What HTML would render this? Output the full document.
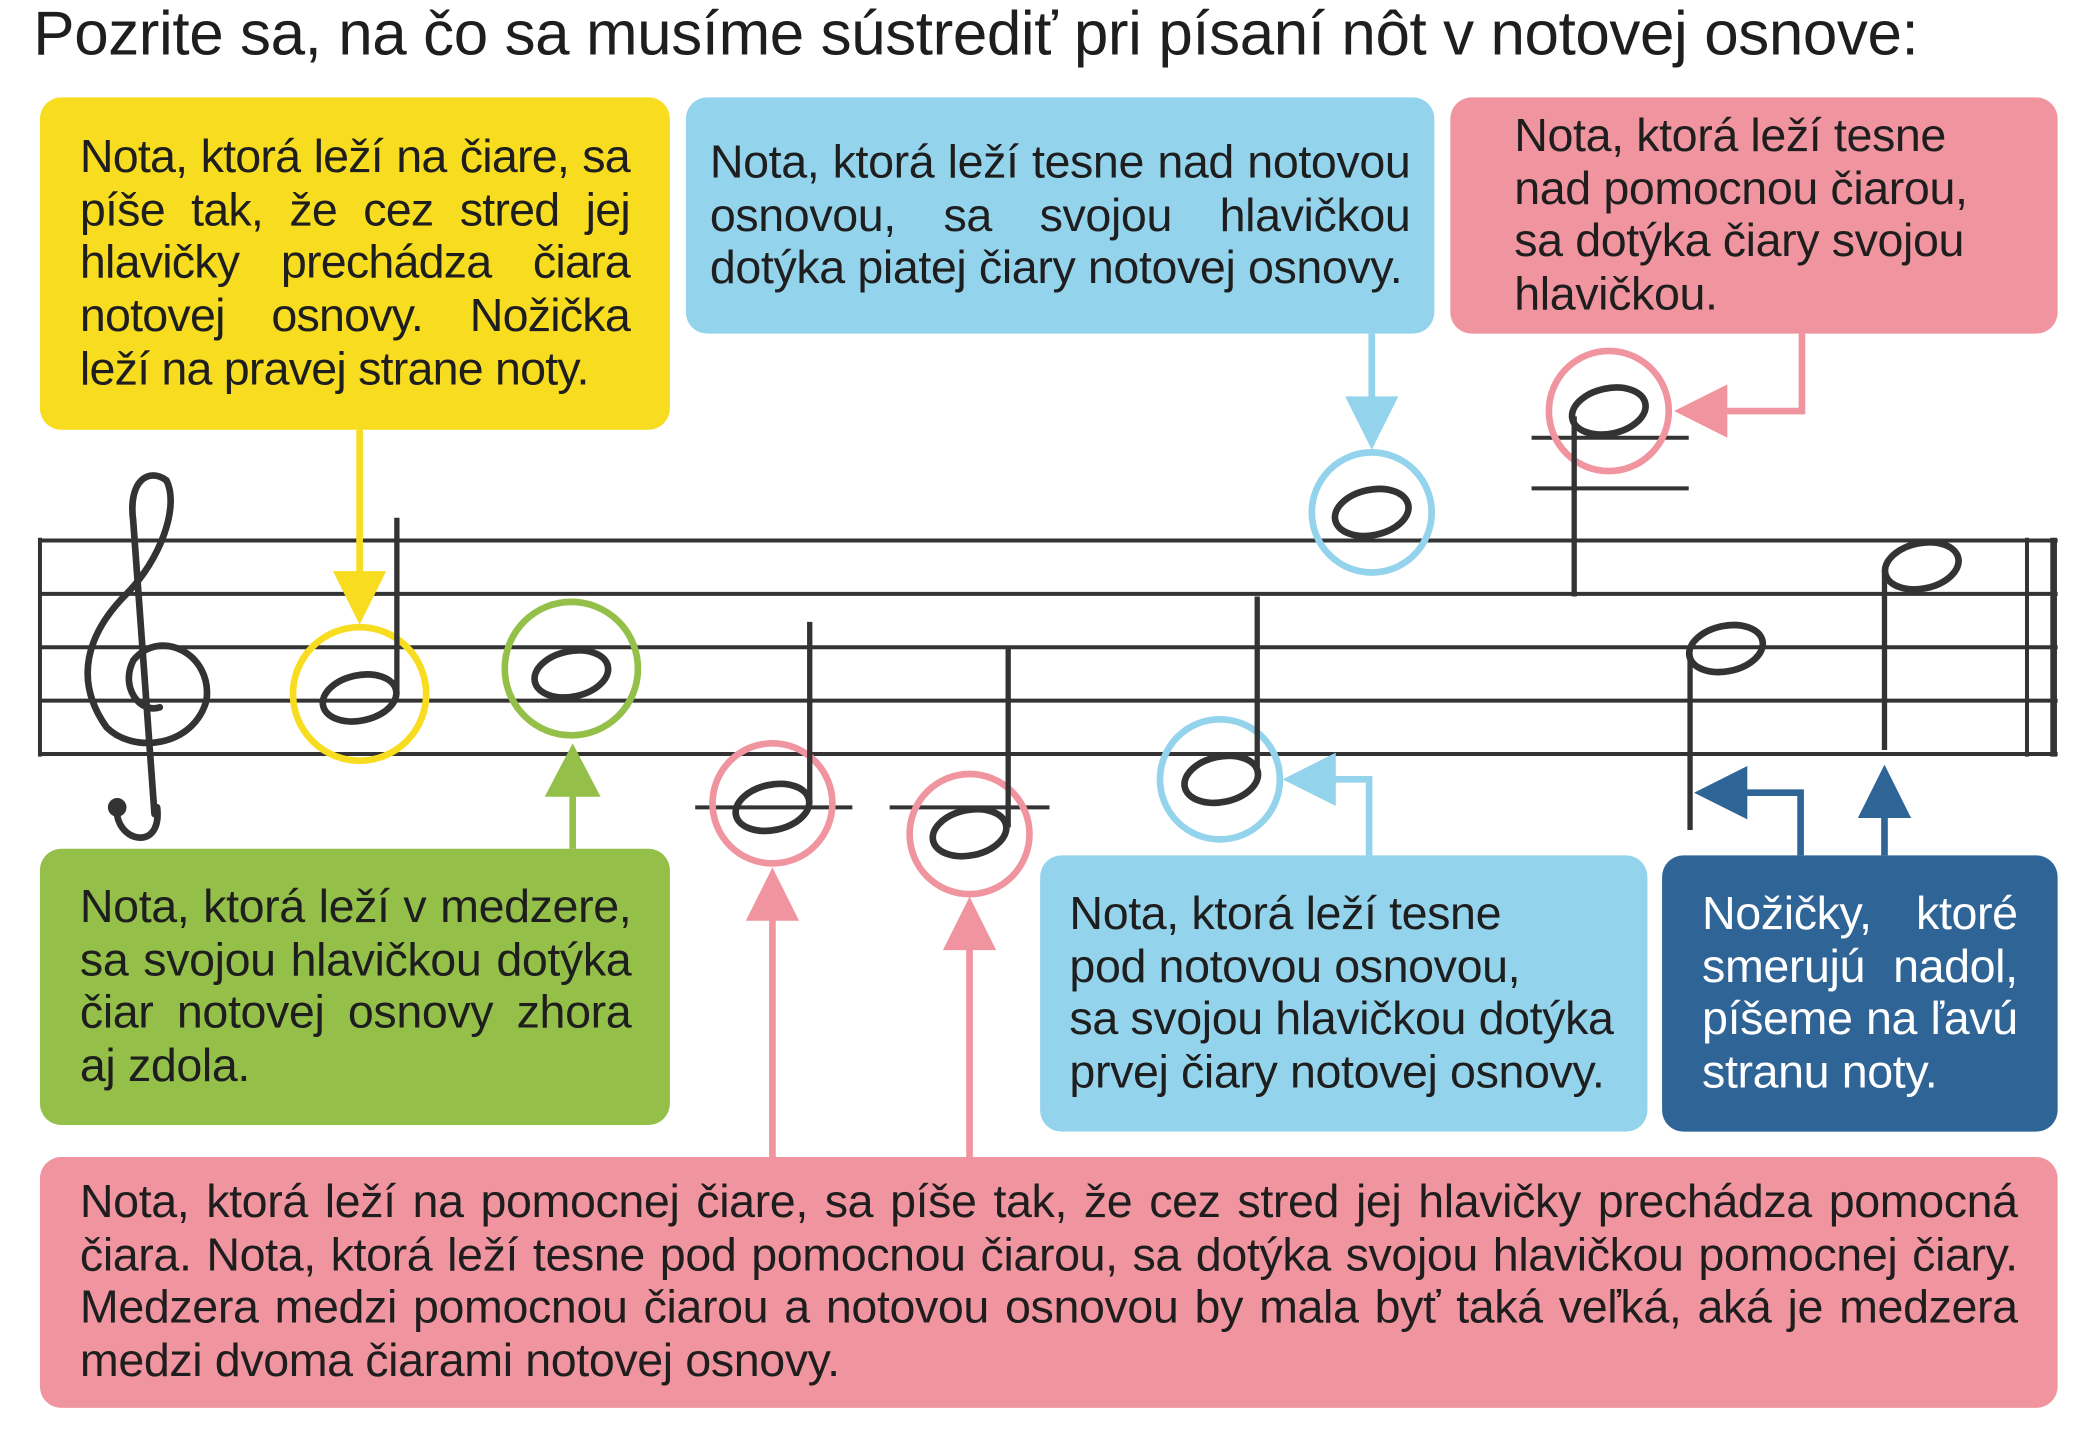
<!DOCTYPE html>
<html><head><meta charset="utf-8"><style>
html,body{margin:0;padding:0;background:#fff;width:2087px;height:1454px;overflow:hidden}
#w{position:absolute;left:0;top:0;width:1560px;height:1087px;transform-origin:0 0;transform:scale(1.3318,1.3345);font-family:"Liberation Sans",sans-serif;color:#1e1e1e}
.b{position:absolute;border-radius:16px}
.t{position:absolute;font-size:35px;line-height:39.7px;letter-spacing:-0.3px}
.t div{white-space:nowrap}
.j div{text-align:justify;text-align-last:justify}
.j div.l{text-align-last:left}
svg{position:absolute;left:0;top:0}
</style></head><body><div id="w">
<div class="t" style="left:25px;top:0px;font-size:46.5px;line-height:50px;letter-spacing:-0.3px">Pozrite sa, na čo sa musíme sústrediť pri písaní nôt v notovej osnove:</div>
<div class="b" style="left:30px;top:73px;width:473px;height:249px;background:#f8dc1f"></div>
<div class="b" style="left:515px;top:73px;width:562px;height:177px;background:#94d3ec"></div>
<div class="b" style="left:1089px;top:73px;width:456px;height:177px;background:#f0959f"></div>
<div class="b" style="left:30px;top:636px;width:473px;height:207px;background:#94c04a"></div>
<div class="b" style="left:781px;top:641px;width:456px;height:207px;background:#94d3ec"></div>
<div class="b" style="left:1248px;top:641px;width:297px;height:207px;background:#2f6496"></div>
<div class="b" style="left:30px;top:867px;width:1515px;height:188px;background:#f0959f"></div>

<div class="t j" style="left:60px;top:98px;width:413px;letter-spacing:-0.6px"><div>Nota, ktorá leží na čiare, sa</div><div>píše tak, že cez stred jej</div><div>hlavičky prechádza čiara</div><div>notovej osnovy. Nožička</div><div class="l">leží na pravej strane noty.</div></div>
<div class="t j" style="left:533px;top:102px;width:526px"><div>Nota, ktorá leží tesne nad notovou</div><div>osnovou, sa svojou hlavičkou</div><div class="l">dotýka piatej čiary notovej osnovy.</div></div>
<div class="t" style="left:1137px;top:82px"><div>Nota, ktorá leží tesne</div><div>nad pomocnou čiarou,</div><div>sa dotýka čiary svojou</div><div>hlavičkou.</div></div>
<div class="t j" style="left:60px;top:660px;width:414px"><div>Nota, ktorá leží v medzere,</div><div>sa svojou hlavičkou dotýka</div><div>čiar notovej osnovy zhora</div><div class="l">aj zdola.</div></div>
<div class="t" style="left:803px;top:665px"><div>Nota, ktorá leží tesne</div><div>pod notovou osnovou,</div><div>sa svojou hlavičkou dotýka</div><div>prvej čiary notovej osnovy.</div></div>
<div class="t j" style="left:1278px;top:665px;width:237px;color:#fff"><div>Nožičky, ktoré</div><div>smerujú nadol,</div><div>píšeme na ľavú</div><div class="l">stranu noty.</div></div>
<div class="t j" style="left:60px;top:881px;width:1455px"><div>Nota, ktorá leží na pomocnej čiare, sa píše tak, že cez stred jej hlavičky prechádza pomocná</div><div>čiara. Nota, ktorá leží tesne pod pomocnou čiarou, sa dotýka svojou hlavičkou pomocnej čiary.</div><div>Medzera medzi pomocnou čiarou a notovou osnovou by mala byť taká veľká, aká je medzera</div><div class="l">medzi dvoma čiarami notovej osnovy.</div></div>

<svg width="1560" height="1087" viewBox="0 0 1560 1087">
<g stroke="#333" stroke-width="3">
<line x1="30" y1="405" x2="1545" y2="405"/><line x1="30" y1="445" x2="1545" y2="445"/><line x1="30" y1="485" x2="1545" y2="485"/><line x1="30" y1="525" x2="1545" y2="525"/><line x1="30" y1="565" x2="1545" y2="565"/>
<line x1="30" y1="403" x2="30" y2="567"/><line x1="1522" y1="403" x2="1522" y2="567"/><line x1="1542" y1="403" x2="1542" y2="567" stroke-width="5"/>
<line x1="522" y1="605" x2="640" y2="605"/><line x1="668" y1="605" x2="788" y2="605"/>
<line x1="1150" y1="328" x2="1268" y2="328"/><line x1="1150" y1="366" x2="1268" y2="366"/>
</g>
<path d="M118,605 C122,640 85,630 88,605 M116,610 L100,390 C96,360 112,350 125,360 C135,380 120,420 95,445 C65,475 55,510 80,545 C100,565 145,560 155,525 C160,490 120,470 100,495 C90,515 105,535 120,530" fill="none" stroke="#333" stroke-width="5" stroke-linecap="round"/>
<circle cx="88" cy="605" r="7" fill="#333"/>
<g fill="none" stroke-width="5">
<circle cx="270" cy="520" r="50" stroke="#f8dc1f"/>
<circle cx="429" cy="501" r="50" stroke="#94c04a"/>
<circle cx="580" cy="602" r="45" stroke="#f0959f"/>
<circle cx="728" cy="625" r="45" stroke="#f0959f"/>
<circle cx="1030" cy="384" r="45" stroke="#94d3ec"/>
<circle cx="916" cy="584" r="45" stroke="#94d3ec"/>
<circle cx="1208" cy="308" r="45" stroke="#f0959f"/>
</g>
<g fill="none" stroke="#333" stroke-width="5">
<ellipse cx="270" cy="523" rx="28" ry="17" transform="rotate(-12 270 523)"/>
<ellipse cx="429" cy="505" rx="28" ry="17" transform="rotate(-12 429 505)"/>
<ellipse cx="580" cy="605" rx="28" ry="17" transform="rotate(-12 580 605)"/>
<ellipse cx="728" cy="624" rx="28" ry="17" transform="rotate(-12 728 624)"/>
<ellipse cx="1030" cy="384" rx="28" ry="17" transform="rotate(-12 1030 384)"/>
<ellipse cx="917" cy="584" rx="28" ry="17" transform="rotate(-12 917 584)"/>
<ellipse cx="1208" cy="308" rx="28" ry="17" transform="rotate(-12 1208 308)"/>
<ellipse cx="1296" cy="486" rx="28" ry="17" transform="rotate(-12 1296 486)"/>
<ellipse cx="1443" cy="424" rx="28" ry="17" transform="rotate(-12 1443 424)"/>
</g>
<g stroke="#333" stroke-width="4">
<line x1="298" y1="520" x2="298" y2="388"/><line x1="608" y1="600" x2="608" y2="466"/><line x1="757" y1="620" x2="757" y2="486"/>
<line x1="944" y1="580" x2="944" y2="447"/><line x1="1182" y1="312" x2="1182" y2="447"/><line x1="1269" y1="490" x2="1269" y2="622"/><line x1="1415" y1="428" x2="1415" y2="562"/>
</g>
<g stroke-width="5" fill="none">
<path d="M270,322 V432" stroke="#f8dc1f"/>
<path d="M430,636 V592" stroke="#94c04a"/>
<path d="M580,867 V686" stroke="#f0959f"/><path d="M728,867 V708" stroke="#f0959f"/>
<path d="M1030,250 V300" stroke="#94d3ec"/>
<path d="M1028,641 V584 H998" stroke="#94d3ec"/>
<path d="M1353,250 V308 H1293" stroke="#f0959f"/>
<path d="M1352,641 V594 H1308" stroke="#2f6496"/>
<path d="M1415,641 V610" stroke="#2f6496"/>
</g>
<polygon points="250,428 290,428 270,468" fill="#f8dc1f"/>
<polygon points="409,597 451,597 430,557" fill="#94c04a"/>
<polygon points="560,690 600,690 580,650" fill="#f0959f"/>
<polygon points="708,712 748,712 728,672" fill="#f0959f"/>
<polygon points="1010,297 1050,297 1030,337" fill="#94d3ec"/>
<polygon points="1003,564 1003,604 963,584" fill="#94d3ec"/>
<polygon points="1297,288 1297,328 1257,308" fill="#f0959f"/>
<polygon points="1312,574 1312,614 1272,594" fill="#2f6496"/>
<polygon points="1395,613 1435,613 1415,573" fill="#2f6496"/>
</svg>
</div></body></html>
